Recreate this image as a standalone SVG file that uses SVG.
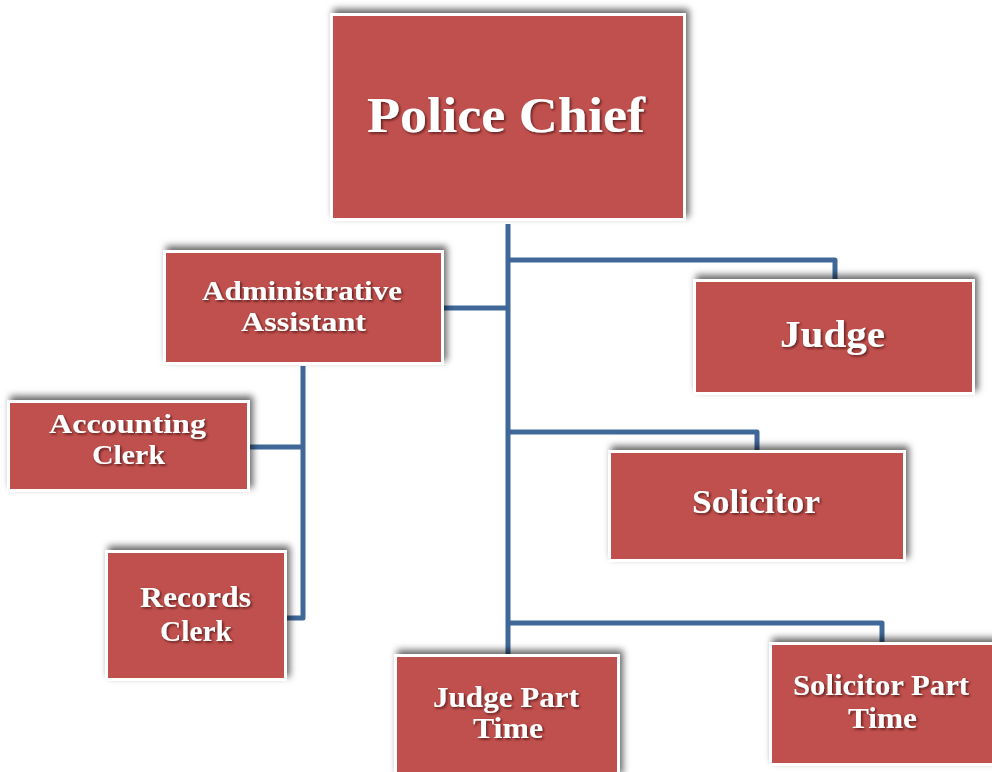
<svg xmlns="http://www.w3.org/2000/svg" width="992" height="772" viewBox="0 0 992 772">
  <defs>
    <!-- soft shadow thrown up and to the right of each box -->
    <filter id="boxShadow" x="-10%" y="-25%" width="125%" height="145%">
      <feDropShadow dx="3" dy="-4" stdDeviation="3.5" flood-color="#000" flood-opacity="0.6"/>
    </filter>
    <!-- dark embossed shadow under the white labels -->
    <filter id="textShadow" x="-5%" y="-20%" width="115%" height="150%">
      <feDropShadow dx="1.5" dy="1.5" stdDeviation="1" flood-color="#3a0d0c" flood-opacity="0.75"/>
    </filter>
    <style>
      .frame { fill: #ffffff; filter: url(#boxShadow); }
      .fill { fill: #C0504D; }
      .label { fill: #ffffff; font-family: "Liberation Serif", "DejaVu Serif", serif; font-weight: bold; text-anchor: middle; filter: url(#textShadow); }
      .link { fill: none; stroke: #3F6899; stroke-width: 5; stroke-linejoin: round; }
    </style>
  </defs>

  <rect width="992" height="772" fill="#ffffff"/>

  <!-- connectors -->
  <g id="connectors">
    <path class="link" d="M508 224 V655"/>
    <path class="link" d="M443 308 H508"/>
    <path class="link" d="M508 260 H835 V280"/>
    <path class="link" d="M508 432 H757 V451"/>
    <path class="link" d="M508 623 H882 V644"/>
    <path class="link" d="M303 366 V618 H287"/>
    <path class="link" d="M250 447 H303"/>
  </g>

  <g id="police-chief">
    <rect class="frame" x="330" y="13" width="356" height="208"/>
    <rect class="fill" x="333" y="16" width="350" height="202"/>
    <text class="label" x="506" y="132" font-size="50" textLength="278" lengthAdjust="spacingAndGlyphs">Police Chief</text>
  </g>

  <g id="administrative-assistant">
    <rect class="frame" x="163" y="250" width="281" height="115"/>
    <rect class="fill" x="166" y="253" width="275" height="109"/>
    <text class="label" x="302" y="300" font-size="28" textLength="200" lengthAdjust="spacingAndGlyphs">Administrative</text>
    <text class="label" x="303.5" y="331" font-size="28" textLength="125" lengthAdjust="spacingAndGlyphs">Assistant</text>
  </g>

  <g id="judge">
    <rect class="frame" x="693" y="279" width="282" height="116"/>
    <rect class="fill" x="696" y="282" width="276" height="110"/>
    <text class="label" x="832.5" y="347" font-size="37" textLength="105" lengthAdjust="spacingAndGlyphs">Judge</text>
  </g>

  <g id="solicitor">
    <rect class="frame" x="608" y="450" width="298" height="112"/>
    <rect class="fill" x="611" y="453" width="292" height="106"/>
    <text class="label" x="756" y="513" font-size="34" textLength="128" lengthAdjust="spacingAndGlyphs">Solicitor</text>
  </g>

  <g id="accounting-clerk">
    <rect class="frame" x="7" y="400" width="243" height="92"/>
    <rect class="fill" x="10" y="403" width="237" height="86"/>
    <text class="label" x="127.5" y="433" font-size="28" textLength="157" lengthAdjust="spacingAndGlyphs">Accounting</text>
    <text class="label" x="128.5" y="464" font-size="28" textLength="73" lengthAdjust="spacingAndGlyphs">Clerk</text>
  </g>

  <g id="records-clerk">
    <rect class="frame" x="105" y="550" width="182" height="131"/>
    <rect class="fill" x="108" y="553" width="176" height="125"/>
    <text class="label" x="195.5" y="607" font-size="29" textLength="111" lengthAdjust="spacingAndGlyphs">Records</text>
    <text class="label" x="196" y="641" font-size="29" textLength="72" lengthAdjust="spacingAndGlyphs">Clerk</text>
  </g>

  <g id="judge-part-time">
    <rect class="frame" x="394" y="654" width="226" height="124"/>
    <rect class="fill" x="397" y="657" width="220" height="118"/>
    <text class="label" x="506" y="707" font-size="29" textLength="146" lengthAdjust="spacingAndGlyphs">Judge Part</text>
    <text class="label" x="508" y="738" font-size="29" textLength="70" lengthAdjust="spacingAndGlyphs">Time</text>
  </g>

  <g id="solicitor-part-time">
    <rect class="frame" x="769" y="642" width="230" height="124"/>
    <rect class="fill" x="772" y="645" width="224" height="118"/>
    <text class="label" x="881" y="695" font-size="29" textLength="176" lengthAdjust="spacingAndGlyphs">Solicitor Part</text>
    <text class="label" x="882.5" y="728" font-size="29" textLength="69" lengthAdjust="spacingAndGlyphs">Time</text>
  </g>
</svg>
